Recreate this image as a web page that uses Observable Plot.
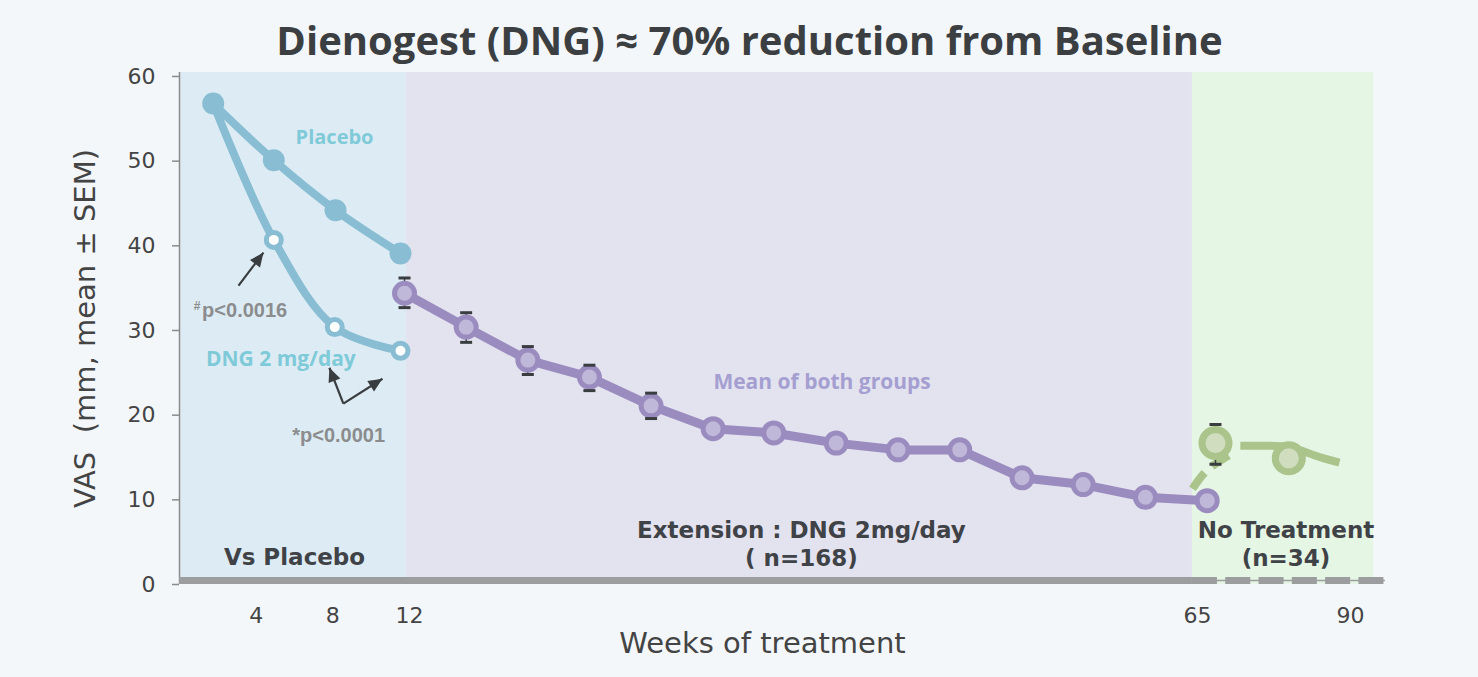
<!DOCTYPE html>
<html>
<head>
<meta charset="utf-8">
<script src="https://cdn.jsdelivr.net/npm/d3@7"></script>
<script src="https://cdn.jsdelivr.net/npm/@observablehq/plot@0.6"></script>
<style>
html, body { margin: 0; padding: 0; background: #f3f7fa; }
#title {
  width: 1478px; height: 62px; box-sizing: border-box;
  padding-top: 20px; padding-left: 21px;
  font-family: "Open Sans", sans-serif; font-weight: 700;
  font-size: 40px; line-height: 39px; color: #3c3f42;
  text-align: center; white-space: nowrap;
}
#chart svg { display: block; }
</style>
</head>
<body>
<div id="title">Dienogest (DNG) ≈ 70% reduction from Baseline</div>
<div id="chart"></div>
<script>
// ---------- data (weeks as drawn on the schematic axis, VAS in mm) ----------
const placeboWeek = [1.76, 4.92, 8.14, 11.53];
const placeboVAS  = [56.8, 50.1, 44.2, 39.1];

const dngWeek = [1.76, 4.92, 8.10, 11.53];
const dngVAS  = [56.8, 40.7, 30.4, 27.6];

const extWeek = [11.74, 15.81, 19.96, 24.10, 28.25, 32.42, 36.50, 40.70, 44.86, 49.01, 53.20, 57.31, 61.50, 66.58];
const extVAS  = [34.4, 30.4, 26.5, 24.5, 21.1, 18.4, 17.9, 16.7, 15.9, 15.9, 12.6, 11.8, 10.3, 9.9];
const extLow  = [32.7, 28.6, 24.8, 22.9, 19.6];
const extHigh = [36.2, 32.1, 28.1, 25.9, 22.6];

const noTxWeek = [67.94, 79.92];
const noTxVAS  = [16.7, 14.9];
const noTxLow  = [14.2];
const noTxHigh = [18.9];

const trendDashWeek = [64.66, 66.3, 68.65, 71.5];
const trendDashVAS  = [11.3, 13.3, 14.6, 15.8];
const trendWeek = [72.0, 76.1, 80.2, 84.3, 88.2];
const trendVAS  = [16.4, 16.4, 16.2, 15.2, 14.4];

const phaseStart = [0, 11.85, 64.66];
const phaseEnd   = [11.85, 64.66, 93.8];
const phaseFill  = ["#ddecf4", "#e3e2ef", "#e6f6e4"];

const phaseLabel     = ["Vs Placebo", "Extension : DNG 2mg/day", "( n=168)", "No Treatment", "(n=34)"];
const phaseLabelWeek = [6.0, 38.36, 38.36, 79.46, 79.46];
const phaseLabelVAS  = [3.15, 6.38, 3.07, 6.38, 3.07];

const noteText  = ["Placebo", "DNG 2 mg/day", "Mean of both groups"];
const noteWeek  = [8.09, 5.29, 39.75];
const noteVAS   = [52.8, 26.6, 23.85];
const noteColor = ["#7fcad8", "#7fcad8", "#a59fd1"];
const noteSize  = [20, 21, 21];

const pText = ["p<0.0016", "*p<0.0001"];
const pWeek = [1.18, 5.88];
const pVAS  = [32.35, 17.6];

// arrows: from (week, VAS) to (week, VAS)
const arrowFromWeek = [3.08, 8.55, 8.55];
const arrowFromVAS  = [35.3, 21.37, 21.37];
const arrowToWeek   = [4.38, 7.82, 10.59];
const arrowToVAS    = [39.2, 25.6, 24.3];

const xTicks = [4, 8, 12, 65, 90];
const yTicks = [0, 10, 20, 30, 40, 50, 60];

// ---------- scales ----------
const W = 1478, H = 615;
const mTop = 10, mBottom = 93, mLeft = 179, mRight = 105;
const xDomain = [0, 12, 65, 90];
const xRange  = [179, 409, 1197, 1350];
const yDomain = [0, 60.47];
const sx = d3.scaleLinear().domain(xDomain).range(xRange);
const sy = d3.scaleLinear().domain(yDomain).range([H - mBottom, mTop]);

// ---------- tables ----------
const placebo = placeboWeek.map((w, i) => ({w, v: placeboVAS[i]}));
const dng = dngWeek.map((w, i) => ({w, v: dngVAS[i]}));
const ext = extWeek.map((w, i) => ({w, v: extVAS[i]}));
const extErr = extLow.map((lo, i) => ({w: extWeek[i], lo, hi: extHigh[i]}));
const noTx = noTxWeek.map((w, i) => ({w, v: noTxVAS[i]}));
const noTxErr = noTxLow.map((lo, i) => ({w: noTxWeek[i], lo, hi: noTxHigh[i]}));
const trendDash = trendDashWeek.map((w, i) => ({w, v: trendDashVAS[i]}));
const trend = trendWeek.map((w, i) => ({w, v: trendVAS[i]}));
const phases = phaseStart.map((s, i) => ({s, e: phaseEnd[i], fill: phaseFill[i]}));
const phaseLabels = phaseLabel.map((t, i) => ({t, w: phaseLabelWeek[i], v: phaseLabelVAS[i]}));
const notes = noteText.map((t, i) => ({t, w: noteWeek[i], v: noteVAS[i], c: noteColor[i], s: noteSize[i]}));
const pNotes = pText.map((t, i) => ({t, w: pWeek[i], v: pVAS[i]}));
const arrows = arrowFromWeek.map((w1, i) => {
  const a = {w1, v1: arrowFromVAS[i], w2: arrowToWeek[i], v2: arrowToVAS[i]};
  const dx = sx(a.w2) - sx(a.w1), dy = sy(a.v2) - sy(a.v1);
  a.angle = Math.atan2(dy, dx) * 180 / Math.PI;
  return a;
});
const errs = extErr.concat(noTxErr);

// custom symbols
const capSymbol = {draw(ctx, size) { const r = Math.sqrt(size / Math.PI); ctx.moveTo(-r, 0); ctx.lineTo(r, 0); }};
const headSymbol = {draw(ctx, size) {
  const r = Math.sqrt(size / Math.PI);
  ctx.moveTo(0, 0); ctx.lineTo(-2 * r, -0.9 * r); ctx.lineTo(-2 * r, 0.9 * r); ctx.closePath();
}};

const blue = "#88bdd3", purple = "#9b8cbf", purpleFill = "#c0b8d9", green = "#aac48b", greenFill = "#d0ddbf";
const axisGray = "#9b9d9f", ink = "#3f4246";

const chart = Plot.plot({
  width: W, height: H,
  marginTop: mTop, marginBottom: mBottom, marginLeft: mLeft, marginRight: mRight,
  style: {background: "transparent", fontFamily: "'DejaVu Sans', sans-serif", overflow: "visible"},
  x: {type: "linear", domain: xDomain, range: xRange},
  y: {type: "linear", domain: yDomain},
  marks: [
    Plot.rect(phases, {x1: "s", x2: "e", y1: 0, y2: yDomain[1], fill: "fill"}),
    // y axis line
    Plot.ruleX([0], {y1: 0, y2: yDomain[1], stroke: "#8a8a8a", strokeWidth: 1.5}),
    // thick x baseline
    Plot.ruleY([0], {x1: 0, x2: 64.66, stroke: axisGray, strokeWidth: 7, dy: -4}),
    Plot.ruleY([0], {x1: 64.66, x2: 95.7, stroke: axisGray, strokeWidth: 1.5, dy: -4}),
    Plot.ruleY([0], {x1: 64.66, x2: 95.7, stroke: axisGray, strokeWidth: 7, dy: -4, strokeDasharray: "25,8.3"}),
    Plot.axisY(yTicks, {tickSize: 7, tickPadding: 17, fontSize: 22, fill: "#444", stroke: "#8a8a8a", strokeWidth: 1.5, label: null}),
    Plot.axisX(xTicks, {tickSize: 0, tickPadding: 23, fontSize: 22, fill: "#444", label: null}),
    Plot.text(["Weeks of treatment"], {text: d => d, frameAnchor: "bottom", dy: 59, dx: -14, fontSize: 29, fill: "#444", textAnchor: "middle", lineAnchor: "middle"}),
    Plot.text(["VAS \u00a0(mm, mean ± SEM)"], {text: d => d, frameAnchor: "left", rotate: -90, dx: -94, fontSize: 29, fill: "#444", textAnchor: "middle", lineAnchor: "middle"}),
    // lines
    Plot.line(placebo, {x: "w", y: "v", stroke: blue, strokeWidth: 8, curve: "catmull-rom"}),
    Plot.line(dng, {x: "w", y: "v", stroke: blue, strokeWidth: 8, curve: "catmull-rom"}),
    Plot.line(ext, {x: "w", y: "v", stroke: purple, strokeWidth: 9}),
    Plot.line(trendDash, {x: "w", y: "v", stroke: green, strokeWidth: 8, strokeDasharray: "20,10", strokeLinecap: "butt", curve: "catmull-rom"}),
    Plot.line(trend, {x: "w", y: "v", stroke: green, strokeWidth: 8, curve: "natural", strokeLinecap: "butt"}),
    // error bars
    Plot.ruleX(errs, {x: "w", y1: "lo", y2: "hi", stroke: "#3a3d40", strokeWidth: 1.5}),
    // dots
    Plot.dot(placebo, {x: "w", y: "v", r: 11, fill: blue}),
    Plot.dot(dng.slice(1), {x: "w", y: "v", r: 7.5, fill: "white", stroke: blue, strokeWidth: 5}),
    Plot.dot(ext, {x: "w", y: "v", r: 10, fill: purpleFill, stroke: purple, strokeWidth: 5}),
    Plot.dot(noTx, {x: "w", y: "v", r: 13.5, fill: greenFill, stroke: green, strokeWidth: 7}),
    Plot.dot(errs, {x: "w", y: "lo", r: 6, symbol: capSymbol, stroke: "#3a3d40", strokeWidth: 3}),
    Plot.dot(errs, {x: "w", y: "hi", r: 6, symbol: capSymbol, stroke: "#3a3d40", strokeWidth: 3}),
    // phase labels
    Plot.text(phaseLabels, {x: "w", y: "v", text: "t", fontSize: 23, fontWeight: "bold", fill: ink, lineAnchor: "middle"}),
    // series notes
    Plot.text(notes, {x: "w", y: "v", text: "t", fill: "c", fontSize: d => d.s, fontWeight: "bold", fontFamily: "'Open Sans', sans-serif", lineAnchor: "middle"}),
    // p-values
    Plot.text(pNotes, {x: "w", y: "v", text: "t", textAnchor: "start", fontSize: 20, fontWeight: "bold", fill: "#8b8c8e", fontFamily: "'Liberation Sans', Arial, sans-serif", lineAnchor: "middle"}),
    Plot.text(["#"], {text: d => d, x: 0.74, y: 32.9, textAnchor: "start", fontSize: 12, fontWeight: "bold", fill: "#8b8c8e", fontFamily: "'Liberation Sans', Arial, sans-serif", lineAnchor: "middle"}),
    // arrows
    Plot.link(arrows, {x1: "w1", y1: "v1", x2: "w2", y2: "v2", stroke: "#3a3d40", strokeWidth: 2.2}),
    Plot.dot(arrows, {x: "w2", y: "v2", r: 7, symbol: headSymbol, rotate: "angle", fill: "#3a3d40", stroke: "none"})
  ]
});
document.getElementById("chart").appendChild(chart);
</script>
</body>
</html>
